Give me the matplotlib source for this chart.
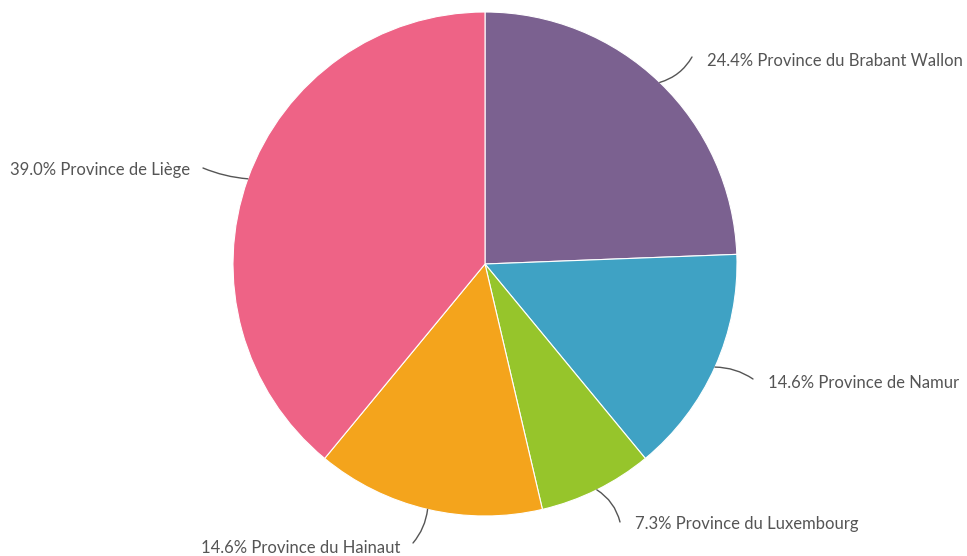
import numpy as np
import matplotlib.pyplot as plt

plt.rcParams['font.family'] = ['Lato', 'DejaVu Sans']

provinces = ["Province du Brabant Wallon", "Province de Namur", "Province du Luxembourg",
             "Province du Hainaut", "Province de Liège"]
counts = [10, 6, 3, 6, 16]
colors = ["#7b6190", "#3fa2c4", "#96c52b", "#f4a41c", "#ee6386"]

# end of leader line and text alignment, in pixel coords (y down)
label_xy = [(692, 57), (753, 379), (620, 522), (413, 543), (203, 168)]
label_ha = ["left", "left", "left", "right", "right"]
label_rad = [-0.2, 0.15, 0.2, 0.15, 0.08]
text_dy = [4, 4, 2, 5, 2]

W, H = 967, 556
cx, cy, r = 485, 264, 252

fig = plt.figure(figsize=(W / 100, H / 100), dpi=100)
ax = fig.add_axes([0, 0, 1, 1])

wedges, _ = ax.pie(counts, colors=colors, startangle=90, counterclock=False,
                   center=(cx, H - cy), radius=r, frame=True,
                   wedgeprops=dict(edgecolor="white", linewidth=0.8))
ax.set_xlim(0, W)
ax.set_ylim(0, H)
ax.set_aspect('equal')
ax.axis('off')

total = sum(counts)
for w, name, c, xy, ha, rad, dy in zip(wedges, provinces, counts, label_xy, label_ha, label_rad, text_dy):
    ang = np.deg2rad((w.theta1 + w.theta2) / 2)
    px = cx + r * np.cos(ang)
    py = (H - cy) + r * np.sin(ang)
    tx, ty = xy[0], H - xy[1]
    ax.annotate("", xy=(px, py), xytext=(tx, ty),
                arrowprops=dict(arrowstyle="-", color="#555555", lw=1.0,
                                connectionstyle="arc3,rad=%s" % rad,
                                shrinkA=0, shrinkB=0))
    off = 15 if ha == "left" else -13
    ax.text(tx + off, ty - dy, "%.1f%% %s" % (100 * c / total, name), ha=ha, va="center",
            fontsize=12, color="#555555")

fig.savefig("out.png", dpi=100)
